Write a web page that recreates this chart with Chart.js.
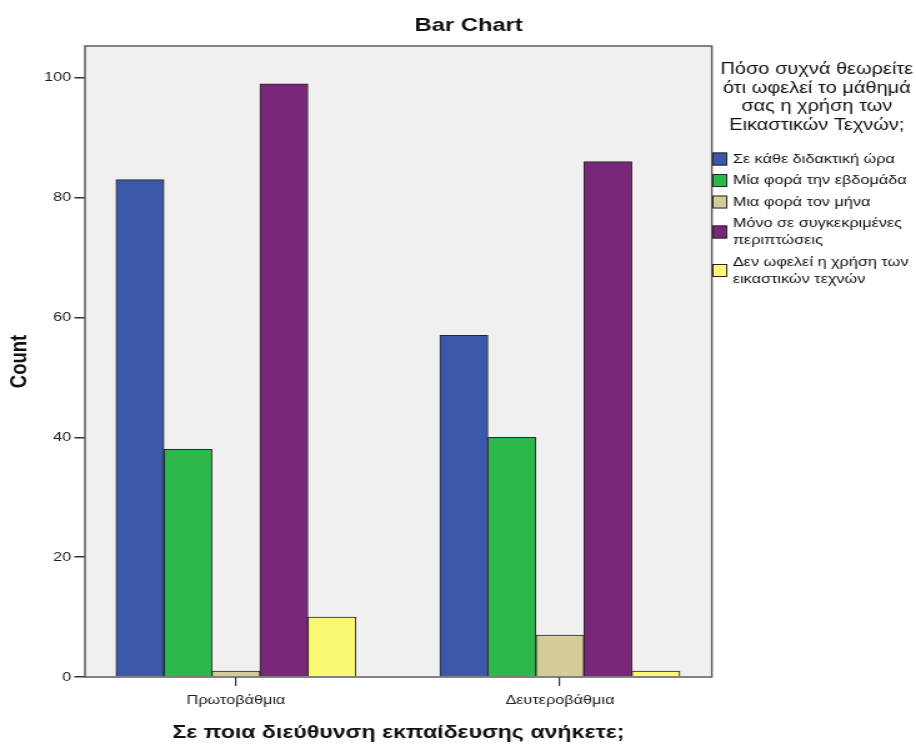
<!DOCTYPE html>
<html>
<head>
<meta charset="utf-8">
<script src="https://cdn.jsdelivr.net/npm/chart.js@4.4.1/dist/chart.umd.min.js"></script>
<style>
  body { margin: 0; background: #fff; }
</style>
</head>
<body>
<!-- the reference image is stretched sideways, so the canvas is drawn narrow and shown at full width -->
<canvas id="graph" width="733" height="746" style="width:916px;height:746px"></canvas>
<script>
// Data
const categories = ['Πρωτοβάθμια', 'Δευτεροβάθμια'];
const categoryPos = [1, 2];
const everyLesson = [83, 57];
const oncePerWeek = [38, 40];
const oncePerMonth = [1, 7];
const specificCases = [99, 86];
const noBenefit = [10, 1];
const yTicks = [0, 20, 40, 60, 80, 100];

const seriesLabels = [
    ['Σε κάθε διδακτική ώρα'],
    ['Μία φορά την εβδομάδα'],
    ['Μια φορά τον μήνα'],
    ['Μόνο σε συγκεκριμένες', 'περιπτώσεις'],
    ['Δεν ωφελεί η χρήση των', 'εικαστικών τεχνών']
];
const legendTitle = ['Πόσο συχνά θεωρείτε', 'ότι ωφελεί το μάθημά', 'σας η χρήση των', 'Εικαστικών Τεχνών;'];
const seriesColors = ['#3d57ab', '#2db84c', '#d4cd9a', '#7a2779', '#fbf872'];
const seriesValues = [everyLesson, oncePerWeek, oncePerMonth, specificCases, noBenefit];

const FONT = "'Liberation Sans', Arial, sans-serif";

function points(values) {
    return values.map((v, i) => ({ x: categoryPos[i], y: v }));
}

const datasets = seriesValues.map((vals, i) => ({
    label: seriesLabels[i].join(' '),
    data: points(vals),
    backgroundColor: seriesColors[i],
    borderColor: '#262626',
    borderWidth: 1,
    borderSkipped: 'start',
    barThickness: 38.4
}));

// grey plot background + frame
const plotFrame = {
    id: 'plotFrame',
    beforeDatasetsDraw(chart) {
        const { ctx, chartArea: a } = chart;
        ctx.save();
        ctx.fillStyle = '#f0f0f0';
        ctx.fillRect(a.left, a.top, a.right - a.left, a.bottom - a.top);
        ctx.restore();
    },
    afterDatasetsDraw(chart) {
        const { ctx, chartArea: a } = chart;
        ctx.save();
        ctx.strokeStyle = '#5c5c5c';
        ctx.lineWidth = 1.5;
        ctx.strokeRect(a.left, a.top, a.right - a.left, a.bottom - a.top);
        ctx.restore();
    }
};

// SPSS style legend on the right
const sideLegend = {
    id: 'sideLegend',
    afterDraw(chart) {
        const ctx = chart.ctx;
        ctx.save();
        ctx.fillStyle = '#111';
        ctx.textBaseline = 'middle';
        ctx.textAlign = 'center';
        ctx.font = '16px ' + FONT;
        legendTitle.forEach((t, i) => ctx.fillText(t, 653.6, 69.5 + i * 18.6));

        ctx.textAlign = 'left';
        ctx.font = '13px ' + FONT;
        let y = 159;
        chart.data.datasets.forEach((ds, i) => {
            const lines = seriesLabels[i];
            const h = (lines.length - 1) * 17;
            const boxY = y + h / 2 - 6.5;
            ctx.fillStyle = ds.backgroundColor;
            ctx.fillRect(570, boxY, 12, 13);
            ctx.strokeStyle = '#262626';
            ctx.lineWidth = 1;
            ctx.strokeRect(570.5, boxY + 0.5, 11, 12);
            ctx.fillStyle = '#111';
            lines.forEach((l, j) => ctx.fillText(l, 586.4, y + j * 17));
            y += h + 21.5;
        });
        ctx.restore();
    }
};

const ctx = document.getElementById('graph').getContext('2d');
new Chart(ctx, {
    type: 'bar',
    data: { datasets: datasets },
    options: {
        responsive: false,
        animation: false,
        layout: { padding: { left: 17, right: 0, top: 0, bottom: 0 } },
        plugins: {
            legend: { display: false },
            tooltip: { enabled: false },
            title: {
                display: true,
                text: 'Bar Chart',
                color: '#111',
                font: { family: FONT, size: 19, weight: 'bold', lineHeight: 1.2 },
                padding: { top: 14.6, bottom: 8.6 }
            }
        },
        scales: {
            x: {
                type: 'linear',
                offset: false,
                min: 0.534,
                max: 2.469,
                afterFit(scale) { scale.height = 69; },
                afterBuildTicks(scale) { scale.ticks = categoryPos.map(v => ({ value: v })); },
                border: { display: false },
                grid: { offset: false, drawOnChartArea: false, drawTicks: true, tickLength: 9, tickColor: '#333', lineWidth: 1.2 },
                ticks: {
                    color: '#222',
                    padding: 7,
                    maxRotation: 0,
                    font: { family: FONT, size: 13 },
                    callback: v => categories[categoryPos.indexOf(v)]
                },
                title: {
                    display: true,
                    text: 'Σε ποια διεύθυνση εκπαίδευσης ανήκετε;',
                    color: '#111',
                    font: { family: FONT, size: 18.5, weight: 'bold', lineHeight: 1.2 },
                    padding: { top: 4, bottom: 2 }
                }
            },
            y: {
                min: 0,
                max: 105.3,
                afterFit(scale) { scale.width = 51; },
                afterBuildTicks(scale) { scale.ticks = yTicks.map(v => ({ value: v })); },
                border: { display: false },
                grid: { drawOnChartArea: false, drawTicks: true, tickLength: 8.5, tickColor: '#333', lineWidth: 1.5 },
                ticks: {
                    color: '#222',
                    padding: 2.5,
                    font: { family: FONT, size: 13 }
                },
                title: {
                    display: true,
                    text: 'Count',
                    color: '#111',
                    font: { family: FONT, size: 18.5, weight: 'bold', lineHeight: 1.2 },
                    padding: { top: -12, bottom: 0 }
                }
            },
            // empty axis that keeps room for the legend on the right
            legendSpace: {
                position: 'right',
                afterFit(scale) { scale.width = 163.4; },
                border: { display: false },
                grid: { display: false },
                ticks: { display: false }
            }
        }
    },
    plugins: [plotFrame, sideLegend]
});
</script>
</body>
</html>
